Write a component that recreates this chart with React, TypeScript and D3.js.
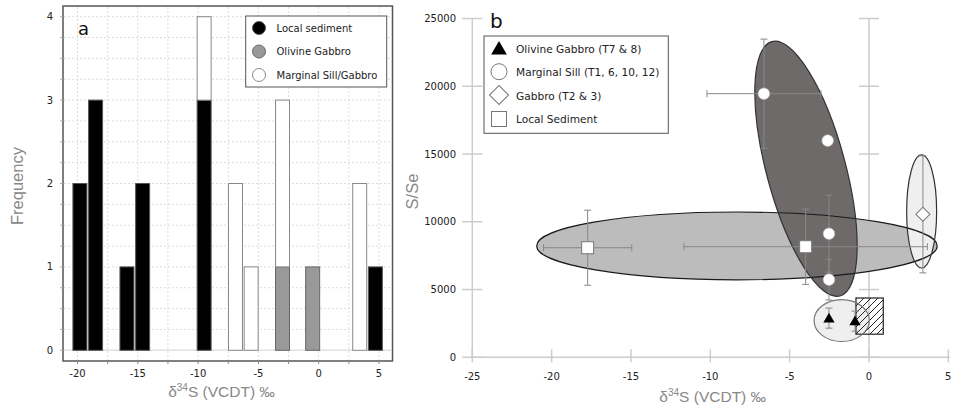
import * as d3 from 'd3';

// panel a: histogram of d34S (bin centres) per group
const binCenters = [-19.8, -18.5, -15.9, -14.6, -9.5, -6.9, -5.6, -3.0, -0.5, 3.4, 4.7];
const localSediment = [2, 3, 1, 2, 3, 0, 0, 0, 0, 0, 1];
const olivineGabbro = [0, 0, 0, 0, 0, 0, 0, 1, 1, 0, 0];
const marginalSill = [0, 0, 0, 0, 1, 2, 1, 2, 0, 2, 0];
const histGroups = ['Local sediment', 'Olivine Gabbro', 'Marginal Sill/Gabbro'];
const xTicksA = [-20, -15, -10, -5, 0, 5];
const yTicksA = [0, 1, 2, 3, 4];

// panel b: S/Se vs d34S
const triangles = [
  { x: -2.52, y: 2890, ex: 0, ey: 740 },
  { x: -0.88, y: 2670, ex: 0, ey: 740 },
];
const circles = [
  { x: -6.62, y: 19450, ex: 3.59, ey: 4030 },
  { x: -2.6, y: 15990, ex: 0, ey: 0 },
  { x: -2.52, y: 9120, ex: 0, ey: 2840 },
  { x: -2.52, y: 5730, ex: 0, ey: 1500 },
];
const diamonds = [{ x: 3.4, y: 10550, ex: 0, ey: 4320 }];
const squares = [
  { x: -17.73, y: 8085, ex: 2.78, ey: 2770 },
  { x: -3.99, y: 8160, ex: 7.67, ey: 2780 },
];
// fields: centre, half-axes in data units, tilt
const fields = [
  { cx: -8.32, cy: 8220, rx: 12.62, ry: 2500, rot: 0, fill: '#bcbcbc', stroke: '#1a1a1a' },
  { cx: -3.97, cy: 13910, rx: 2.49, ry: 9715, rot: -15, fill: '#6e6a6a', stroke: '#333' },
  { cx: 3.32, cy: 10760, rx: 0.945, ry: 4170, rot: 0, fill: '#efefef', stroke: '#333' },
  { cx: -1.72, cy: 2710, rx: 1.74, ry: 1545, rot: 0, fill: '#efefef', stroke: '#777' },
];
const hatchBox = { x0: -0.82, x1: 0.9, y0: 1706, y1: 4376 };
const xTicksB = [-25, -20, -15, -10, -5, 0, 5];
const yTicksB = [0, 5000, 10000, 15000, 20000, 25000];
const legendB = ['Olivine Gabbro (T7 & 8)', 'Marginal Sill (T1, 6, 10, 12)', 'Gabbro (T2 & 3)', 'Local Sediment'];

const tickFont = 'DejaVu Sans, Verdana, sans-serif';
const titleFont = 'Liberation Sans, Arial, sans-serif';

const HistPanel = () => {
  const x = d3.scaleLinear().domain([-20, 5]).range([77.5, 379]);
  const y = d3.scaleLinear().domain([0, 4]).range([350.3, 16.7]);
  const rows = binCenters.map((c, i) => ({
    c,
    'Local sediment': localSediment[i],
    'Olivine Gabbro': olivineGabbro[i],
    'Marginal Sill/Gabbro': marginalSill[i],
  }));
  const stacked = d3.stack<any>().keys(histGroups)(rows);
  const fills = ['#000', '#999', '#fff'];
  const strokes = ['#555', '#666', '#888'];
  const half = 0.58;
  const vGrid = d3.range(-20, 5.01, 2.5);
  const hGrid = d3.range(0, 4.01, 0.25);

  return (
    <g>
      {vGrid.map((v) => (
        <line key={'vg' + v} x1={x(v)} x2={x(v)} y1={7} y2={360} stroke="#ddd" strokeDasharray="2,2" />
      ))}
      {hGrid.map((v) => (
        <line key={'hg' + v} x1={64} x2={391} y1={y(v)} y2={y(v)} stroke="#ddd" strokeDasharray="2,2" />
      ))}
      <line x1={64} x2={391} y1={y(0)} y2={y(0)} stroke="#e2e2e2" strokeWidth={1.5} />
      {stacked.map((s, k) =>
        s.map((d, i) =>
          d[1] - d[0] > 0 ? (
            <rect
              key={k + '-' + i}
              x={x(binCenters[i] - half)}
              width={x(binCenters[i] + half) - x(binCenters[i] - half)}
              y={y(d[1])}
              height={y(d[0]) - y(d[1])}
              fill={fills[k]}
              stroke={strokes[k]}
              strokeWidth={1}
            />
          ) : null
        )
      )}
      <rect x={63} y={6} width={329.5} height={355} fill="none" stroke="#555" strokeWidth={1.5} />
      {vGrid.map((v) => (
        <line key={'xt' + v} x1={x(v)} x2={x(v)} y1={361} y2={364} stroke="#888" />
      ))}
      {hGrid.map((v) => (
        <line key={'yt' + v} x1={60} x2={63} y1={y(v)} y2={y(v)} stroke="#aaa" />
      ))}
      {xTicksA.map((v) => (
        <text key={'xl' + v} x={x(v)} y={377} textAnchor="middle" fontSize={10} fontFamily={tickFont} fill="#222">
          {v}
        </text>
      ))}
      {yTicksA.map((v) => (
        <text key={'yl' + v} x={53} y={y(v) + 3.5} textAnchor="end" fontSize={10} fontFamily={tickFont} fill="#222">
          {v}
        </text>
      ))}
      <text x={78} y={35} fontSize={18} fontFamily={tickFont} fill="#111">a</text>
      <text x={221.5} y={396.5} textAnchor="middle" fontSize={15.5} fontFamily={titleFont} fill="#888">
        δ<tspan fontSize={10} dy={-6}>34</tspan>
        <tspan dy={6}>S (VCDT) ‰</tspan>
      </text>
      <text
        transform="translate(22.5,186) rotate(-90)"
        textAnchor="middle"
        fontSize={16.5}
        fontFamily={titleFont}
        fill="#888"
      >
        Frequency
      </text>
      <rect x={245.7} y={16} width={141} height={71} fill="#fff" stroke="#555" strokeWidth={1} />
      {histGroups.map((g, i) => (
        <g key={g}>
          <circle cx={259} cy={28 + i * 23.5} r={6.5} fill={fills[i]} stroke={strokes[i]} />
          <text x={276.5} y={31.5 + i * 23.5} fontSize={10} fontFamily={tickFont} fill="#222">
            {g}
          </text>
        </g>
      ))}
    </g>
  );
};

const ScatterPanel = () => {
  const x = d3.scaleLinear().domain([-25, 5]).range([472.3, 948.3]);
  const y = d3.scaleLinear().domain([0, 25000]).range([357.3, 18.5]);
  const cap = 3.5;
  const errBars = [...circles, ...squares, ...diamonds, ...triangles];
  const tri = d3.symbol().type(d3.symbolTriangle).size(55)()!;
  const dia = d3.symbol().type(d3.symbolSquare).size(98)()!;
  const ells = fields.map((f) => {
    const cx = x(f.cx);
    const cy = y(f.cy);
    return { ...f, px: cx, py: cy, prx: x(f.cx + f.rx) - cx, pry: cy - y(f.cy + f.ry) };
  });

  return (
    <g>
      <defs>
        <pattern id="hatch" patternUnits="userSpaceOnUse" width={7} height={7}>
          <path d="M-2,2 L2,-2 M0,7 L7,0 M5,9 L9,5" stroke="#222" strokeWidth={1} />
        </pattern>
      </defs>
      {/* axes */}
      <line x1={x(-25)} x2={950} y1={y(0)} y2={y(0)} stroke="#ccc" strokeWidth={1.5} />
      <line x1={x(-25)} x2={x(-25)} y1={y(25000)} y2={y(0)} stroke="#ccc" strokeWidth={1.5} />
      <line x1={x(0)} x2={x(0)} y1={y(25000)} y2={y(0)} stroke="#ccc" strokeWidth={1.5} />
      {yTicksB.map((v) => (
        <g key={'yt' + v}>
          <line x1={x(-25) - 10} x2={x(-25) + 10} y1={y(v)} y2={y(v)} stroke="#ccc" strokeWidth={1.5} />
          <line x1={x(0) - 10} x2={x(0) + 10} y1={y(v)} y2={y(v)} stroke="#ccc" strokeWidth={1.5} />
          <text x={456} y={y(v) + 3.5} textAnchor="end" fontSize={10} fontFamily={tickFont} fill="#222">
            {v}
          </text>
        </g>
      ))}
      {xTicksB.map((v) => (
        <g key={'xt' + v}>
          <line x1={x(v)} x2={x(v)} y1={y(0) - 8} y2={y(0) + 5} stroke="#ccc" strokeWidth={1.5} />
          <text x={x(v)} y={380} textAnchor="middle" fontSize={10} fontFamily={tickFont} fill="#222">
            {v}
          </text>
        </g>
      ))}
      {/* fields: fills first, outlines on top */}
      {ells.map((e, i) => (
        <ellipse
          key={'f' + i}
          cx={e.px}
          cy={e.py}
          rx={e.prx}
          ry={e.pry}
          transform={`rotate(${e.rot} ${e.px} ${e.py})`}
          fill={e.fill}
        />
      ))}
      <rect
        x={x(hatchBox.x0)}
        y={y(hatchBox.y1)}
        width={x(hatchBox.x1) - x(hatchBox.x0)}
        height={y(hatchBox.y0) - y(hatchBox.y1)}
        fill="url(#hatch)"
        stroke="#222"
        strokeWidth={1.2}
      />
      {ells.map((e, i) => (
        <ellipse
          key={'o' + i}
          cx={e.px}
          cy={e.py}
          rx={e.prx}
          ry={e.pry}
          transform={`rotate(${e.rot} ${e.px} ${e.py})`}
          fill="none"
          stroke={e.stroke}
          strokeWidth={1.2}
        />
      ))}
      {/* error bars */}
      {errBars.map((d, i) => (
        <g key={'e' + i} stroke="#888" strokeWidth={1}>
          {d.ex > 0 && (
            <>
              <line x1={x(d.x - d.ex)} x2={x(d.x + d.ex)} y1={y(d.y)} y2={y(d.y)} />
              <line x1={x(d.x - d.ex)} x2={x(d.x - d.ex)} y1={y(d.y) - cap} y2={y(d.y) + cap} />
              <line x1={x(d.x + d.ex)} x2={x(d.x + d.ex)} y1={y(d.y) - cap} y2={y(d.y) + cap} />
            </>
          )}
          {d.ey > 0 && (
            <>
              <line x1={x(d.x)} x2={x(d.x)} y1={y(d.y - d.ey)} y2={y(d.y + d.ey)} />
              <line x1={x(d.x) - cap} x2={x(d.x) + cap} y1={y(d.y - d.ey)} y2={y(d.y - d.ey)} />
              <line x1={x(d.x) - cap} x2={x(d.x) + cap} y1={y(d.y + d.ey)} y2={y(d.y + d.ey)} />
            </>
          )}
        </g>
      ))}
      {/* markers */}
      {squares.map((d, i) => (
        <rect key={'s' + i} x={x(d.x) - 6} y={y(d.y) - 6} width={12} height={12} fill="#fff" stroke="#777" />
      ))}
      {circles.map((d, i) => (
        <circle key={'c' + i} cx={x(d.x)} cy={y(d.y)} r={5.8} fill="#fff" stroke="#bbb" strokeWidth={0.6} />
      ))}
      {diamonds.map((d, i) => (
        <path key={'d' + i} d={dia} transform={`translate(${x(d.x)},${y(d.y)}) rotate(45)`} fill="#fff" stroke="#777" />
      ))}
      {triangles.map((d, i) => (
        <path key={'t' + i} d={tri} transform={`translate(${x(d.x)},${y(d.y) + 1})`} fill="#000" />
      ))}
      {/* labels */}
      <text x={490} y={28.3} fontSize={20} fontFamily={tickFont} fill="#111">b</text>
      <text x={712.7} y={402} textAnchor="middle" fontSize={15.5} fontFamily={titleFont} fill="#888">
        δ<tspan fontSize={10} dy={-6}>34</tspan>
        <tspan dy={6}>S (VCDT) ‰</tspan>
      </text>
      <text transform="translate(418,191.5) rotate(-90)" textAnchor="middle" fontSize={16.5} fontFamily={titleFont} fill="#888">
        S/Se
      </text>
      {/* legend */}
      <rect x={484} y={36} width={184.3} height={97.3} fill="#fff" stroke="#555" />
      <path d={d3.symbol().type(d3.symbolTriangle).size(107)()!} transform="translate(499,50)" fill="#000" />
      <circle cx={499} cy={71.7} r={8} fill="#fff" stroke="#777" />
      <path d={d3.symbol().type(d3.symbolSquare).size(180)()!} transform="translate(499,95) rotate(45)" fill="#fff" stroke="#777" />
      <rect x={491.5} y={111.5} width={15} height={15} fill="#fff" stroke="#777" />
      {legendB.map((t, i) => (
        <text key={t} x={516} y={53 + i * 23.3} fontSize={10.6} fontFamily={tickFont} fill="#222">
          {t}
        </text>
      ))}
    </g>
  );
};

export default function App() {
  return (
    <svg width={954} height={411} style={{ position: 'absolute', left: 0, top: 0, background: '#fff' }}>
      <rect width={954} height={411} fill="#fff" />
      <HistPanel />
      <ScatterPanel />
    </svg>
  );
}
